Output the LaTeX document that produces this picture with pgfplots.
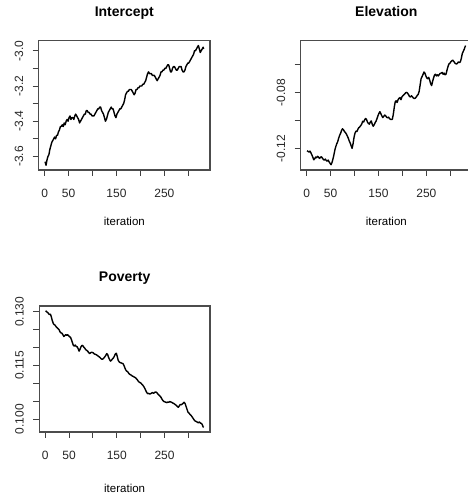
\documentclass[border=0pt]{standalone}
\usepackage{pgfplots}
\pgfplotsset{compat=1.18}
\usepackage{fontspec}
\setmainfont{Liberation Sans}

\pgfplotsset{
  trace/.style={
    scale only axis,
    anchor=south west,
    xmin=-12.3, xmax=345.3,
    xtick={0,50,...,300},
    xticklabels={0,50,,150,,250,},
    xtick pos=left, ytick pos=left,
    tick align=outside,
    major tick length=6pt,
    tick style={black!75, line width=0.9pt},
    axis line style={black!70, line width=1.2pt},
    ticklabel style={font=\fontsize{12}{12}\selectfont, text=black!85},
    xticklabel style={yshift=-10pt},
    yticklabel style={rotate=90, anchor=south, yshift=6pt},
    title style={font=\bfseries\fontsize{14}{14}\selectfont, at={(0.5,1)}, anchor=base, yshift=18pt},
    xlabel={iteration},
    xlabel style={font=\fontsize{11.5}{11.5}\selectfont, at={(0.5,0)}, anchor=base, yshift=-56pt},
  },
  tr/.style={black, line width=1.4pt, line join=round},
}

\begin{document}
\begin{tikzpicture}
\useasboundingbox (0,0) rectangle (468pt,495pt);
\clip (0,0) rectangle (468pt,495pt);

% Intercept
\begin{axis}[trace, at={(38.7pt,325pt)}, width=171.3pt, height=129.3pt,
  title={Intercept}, ymin=-3.677, ymax=-2.943,
  ytick={-3.6,-3.5,-3.4,-3.3,-3.2,-3.1,-3.0},
  yticklabels={-3.6,,-3.4,,-3.2,,-3.0}]
\addplot[tr] coordinates {
(1,-3.63) (3,-3.65) (5,-3.62) (7,-3.60) (9,-3.59) (11,-3.56) (13,-3.54) (15,-3.52)
(17,-3.51) (19,-3.50) (21,-3.49) (23,-3.50) (25,-3.48) (27,-3.48) (29,-3.46) (31,-3.45)
(33,-3.43) (35,-3.43) (37,-3.42) (39,-3.43) (41,-3.41) (43,-3.42) (45,-3.40) (47,-3.39)
(49,-3.40) (51,-3.38) (53,-3.37) (55,-3.39) (57,-3.38) (59,-3.38) (61,-3.39) (63,-3.37)
(65,-3.36) (67,-3.37) (69,-3.38) (71,-3.39) (73,-3.41) (75,-3.40) (77,-3.39) (79,-3.38)
(81,-3.37) (83,-3.36) (85,-3.36) (87,-3.34) (89,-3.34) (91,-3.35) (93,-3.35) (95,-3.36)
(97,-3.36) (99,-3.37) (101,-3.37) (103,-3.37) (105,-3.36) (107,-3.35) (109,-3.34) (111,-3.33)
(113,-3.33) (115,-3.32) (117,-3.32) (119,-3.34) (121,-3.35) (123,-3.36) (125,-3.38) (127,-3.40)
(129,-3.39) (131,-3.37) (133,-3.35) (135,-3.34) (137,-3.33) (139,-3.32) (141,-3.33) (143,-3.33)
(145,-3.35) (147,-3.37) (149,-3.38) (151,-3.36) (153,-3.35) (155,-3.34) (157,-3.33) (159,-3.33)
(161,-3.32) (163,-3.31) (165,-3.30) (167,-3.28) (169,-3.25) (171,-3.24) (173,-3.23) (175,-3.23)
(177,-3.22) (179,-3.22) (181,-3.22) (183,-3.23) (185,-3.24) (187,-3.25) (189,-3.24) (191,-3.22)
(193,-3.22) (195,-3.21) (197,-3.21) (199,-3.20) (201,-3.20) (203,-3.20) (205,-3.19) (207,-3.19)
(209,-3.18) (211,-3.17) (213,-3.15) (215,-3.13) (217,-3.12) (219,-3.13) (221,-3.13) (223,-3.13)
(225,-3.14) (227,-3.14) (229,-3.14) (231,-3.15) (233,-3.16) (235,-3.17) (237,-3.16) (239,-3.15)
(241,-3.14) (243,-3.12) (245,-3.12) (247,-3.11) (249,-3.11) (251,-3.10) (253,-3.10) (255,-3.09)
(257,-3.08) (259,-3.08) (261,-3.10) (263,-3.12) (265,-3.12) (267,-3.10) (269,-3.09) (271,-3.09)
(273,-3.10) (275,-3.11) (277,-3.11) (279,-3.10) (281,-3.09) (283,-3.09) (285,-3.09) (287,-3.11)
(289,-3.12) (291,-3.12) (293,-3.11) (295,-3.09) (297,-3.08) (299,-3.07) (301,-3.07) (303,-3.06)
(305,-3.05) (307,-3.04) (309,-3.03) (311,-3.02) (313,-3.00) (315,-3.00) (317,-2.99) (319,-2.98)
(321,-2.97) (323,-2.99) (325,-3.01) (327,-3.00) (329,-2.99) (331,-2.98) (332,-2.99)
};
\end{axis}

% Elevation
\begin{axis}[trace, at={(300.7pt,325pt)}, width=171.3pt, height=129.3pt,
  title={Elevation}, ymin=-0.1353, ymax=-0.0428,
  ytick={-0.12,-0.10,-0.08,-0.06},
  yticklabels={-0.12,,-0.08,}]
\addplot[tr] coordinates {
(1,-0.1215) (3,-0.1220) (5,-0.1225) (7,-0.1218) (9,-0.1230) (11,-0.1245) (13,-0.1262) (15,-0.1280)
(17,-0.1272) (19,-0.1260) (21,-0.1265) (23,-0.1255) (25,-0.1262) (27,-0.1270) (29,-0.1262) (31,-0.1258)
(33,-0.1268) (35,-0.1278) (37,-0.1282) (39,-0.1275) (41,-0.1285) (43,-0.1290) (45,-0.1282) (47,-0.1295)
(49,-0.1305) (51,-0.1315) (53,-0.1300) (55,-0.1275) (57,-0.1245) (59,-0.1210) (61,-0.1185) (63,-0.1165)
(65,-0.1150) (67,-0.1125) (69,-0.1105) (71,-0.1090) (73,-0.1070) (75,-0.1058) (77,-0.1065) (79,-0.1078)
(81,-0.1085) (83,-0.1095) (85,-0.1110) (87,-0.1125) (89,-0.1145) (91,-0.1160) (93,-0.1180) (95,-0.1198)
(97,-0.1165) (99,-0.1120) (101,-0.1090) (103,-0.1075) (105,-0.1078) (107,-0.1062) (109,-0.1050) (111,-0.1045)
(113,-0.1035) (115,-0.1025) (117,-0.1005) (119,-0.1010) (121,-0.0995) (123,-0.0985) (125,-0.0990) (127,-0.1010)
(129,-0.1020) (131,-0.1025) (133,-0.1010) (135,-0.1002) (137,-0.1025) (139,-0.1040) (141,-0.1030) (143,-0.1015)
(145,-0.1004) (147,-0.0985) (149,-0.0965) (151,-0.0948) (153,-0.0936) (155,-0.0950) (157,-0.0965) (159,-0.0978)
(161,-0.0970) (163,-0.0960) (165,-0.0965) (167,-0.0975) (169,-0.0980) (171,-0.0975) (173,-0.0985) (175,-0.0990)
(177,-0.0992) (179,-0.0990) (181,-0.0955) (183,-0.0905) (185,-0.0865) (187,-0.0858) (189,-0.0870) (191,-0.0850)
(193,-0.0840) (195,-0.0835) (197,-0.0850) (199,-0.0830) (201,-0.0822) (203,-0.0815) (205,-0.0808) (207,-0.0800)
(209,-0.0798) (211,-0.0805) (213,-0.0815) (215,-0.0828) (217,-0.0830) (219,-0.0822) (221,-0.0830) (223,-0.0838)
(225,-0.0842) (227,-0.0839) (229,-0.0830) (231,-0.0820) (233,-0.0812) (235,-0.0790) (237,-0.0745) (239,-0.0700)
(241,-0.0685) (243,-0.0670) (245,-0.0652) (247,-0.0660) (249,-0.0680) (251,-0.0695) (253,-0.0700) (255,-0.0690)
(257,-0.0710) (259,-0.0735) (261,-0.0749) (263,-0.0720) (265,-0.0695) (267,-0.0675) (269,-0.0668) (271,-0.0680)
(273,-0.0672) (275,-0.0680) (277,-0.0670) (279,-0.0662) (281,-0.0660) (283,-0.0655) (285,-0.0668) (287,-0.0660)
(289,-0.0672) (291,-0.0668) (293,-0.0640) (295,-0.0615) (297,-0.0595) (299,-0.0590) (301,-0.0580) (303,-0.0572)
(305,-0.0567) (307,-0.0575) (309,-0.0585) (311,-0.0592) (313,-0.0595) (315,-0.0588) (317,-0.0580) (319,-0.0585)
(321,-0.0579) (323,-0.0555) (325,-0.0520) (327,-0.0505) (329,-0.0490) (331,-0.0470) (332,-0.0463)
};
\end{axis}

% Poverty
\begin{axis}[trace, at={(39.3pt,63pt)}, width=170.7pt, height=126pt,
  title={Poverty}, ymin=0.0964, ymax=0.1316,
  xlabel style={yshift=-4pt},
  ytick={0.100,0.105,0.110,0.115,0.120,0.125,0.130},
  yticklabels={0.100,,,0.115,,,0.130}]
\addplot[tr] coordinates {
(1,0.1303) (3,0.1300) (5,0.1298) (7,0.1295) (9,0.1292) (11,0.1293) (13,0.1285) (15,0.1275)
(17,0.1267) (19,0.1264) (21,0.1262) (23,0.1258) (25,0.1255) (27,0.1253) (29,0.1250) (31,0.1244)
(33,0.1241) (35,0.1240) (37,0.1236) (39,0.1231) (41,0.1233) (43,0.1236) (45,0.1234) (47,0.1236)
(49,0.1233) (51,0.1230) (53,0.1229) (55,0.1222) (57,0.1214) (59,0.1206) (61,0.1204) (63,0.1207)
(65,0.1203) (67,0.1202) (69,0.1197) (71,0.1190) (73,0.1195) (75,0.1202) (77,0.1206) (79,0.1205)
(81,0.1201) (83,0.1198) (85,0.1194) (87,0.1192) (89,0.1190) (91,0.1186) (93,0.1183) (95,0.1185)
(97,0.1187) (99,0.1186) (101,0.1185) (103,0.1182) (105,0.1181) (107,0.1180) (109,0.1178) (111,0.1176)
(113,0.1174) (115,0.1172) (117,0.1169) (119,0.1167) (121,0.1168) (123,0.1171) (125,0.1174) (127,0.1178)
(129,0.1183) (131,0.1180) (133,0.1172) (135,0.1166) (137,0.1162) (139,0.1165) (141,0.1168) (143,0.1171)
(145,0.1176) (147,0.1182) (149,0.1184) (151,0.1175) (153,0.1164) (155,0.1160) (157,0.1158) (159,0.1157)
(161,0.1156) (163,0.1155) (165,0.1150) (167,0.1143) (169,0.1137) (171,0.1134) (173,0.1132) (175,0.1128)
(177,0.1125) (179,0.1124) (181,0.1122) (183,0.1120) (185,0.1119) (187,0.1117) (189,0.1116) (191,0.1113)
(193,0.1110) (195,0.1106) (197,0.1103) (199,0.1102) (201,0.1100) (203,0.1097) (205,0.1094) (207,0.1090)
(209,0.1085) (211,0.1079) (213,0.1074) (215,0.1071) (217,0.1072) (219,0.1070) (221,0.1071) (223,0.1073)
(225,0.1074) (227,0.1072) (229,0.1074) (231,0.1076) (233,0.1075) (235,0.1072) (237,0.1069) (239,0.1066)
(241,0.1064) (243,0.1060) (245,0.1055) (247,0.1051) (249,0.1049) (251,0.1048) (253,0.1047) (255,0.1046)
(257,0.1048) (259,0.1047) (261,0.1049) (263,0.1048) (265,0.1047) (267,0.1045) (269,0.1044) (271,0.1042)
(273,0.1040) (275,0.1038) (277,0.1035) (279,0.1033) (281,0.1037) (283,0.1041) (285,0.1040) (287,0.1042)
(289,0.1044) (291,0.1047) (293,0.1044) (295,0.1036) (297,0.1028) (299,0.1020) (301,0.1017) (303,0.1014)
(305,0.1011) (307,0.1008) (309,0.1004) (311,0.1000) (313,0.0996) (315,0.0994) (317,0.0993) (319,0.0991)
(321,0.0990) (323,0.0992) (325,0.0989) (327,0.0988) (329,0.0985) (331,0.0978) (332,0.0977)
};
\end{axis}
\end{tikzpicture}
\end{document}
